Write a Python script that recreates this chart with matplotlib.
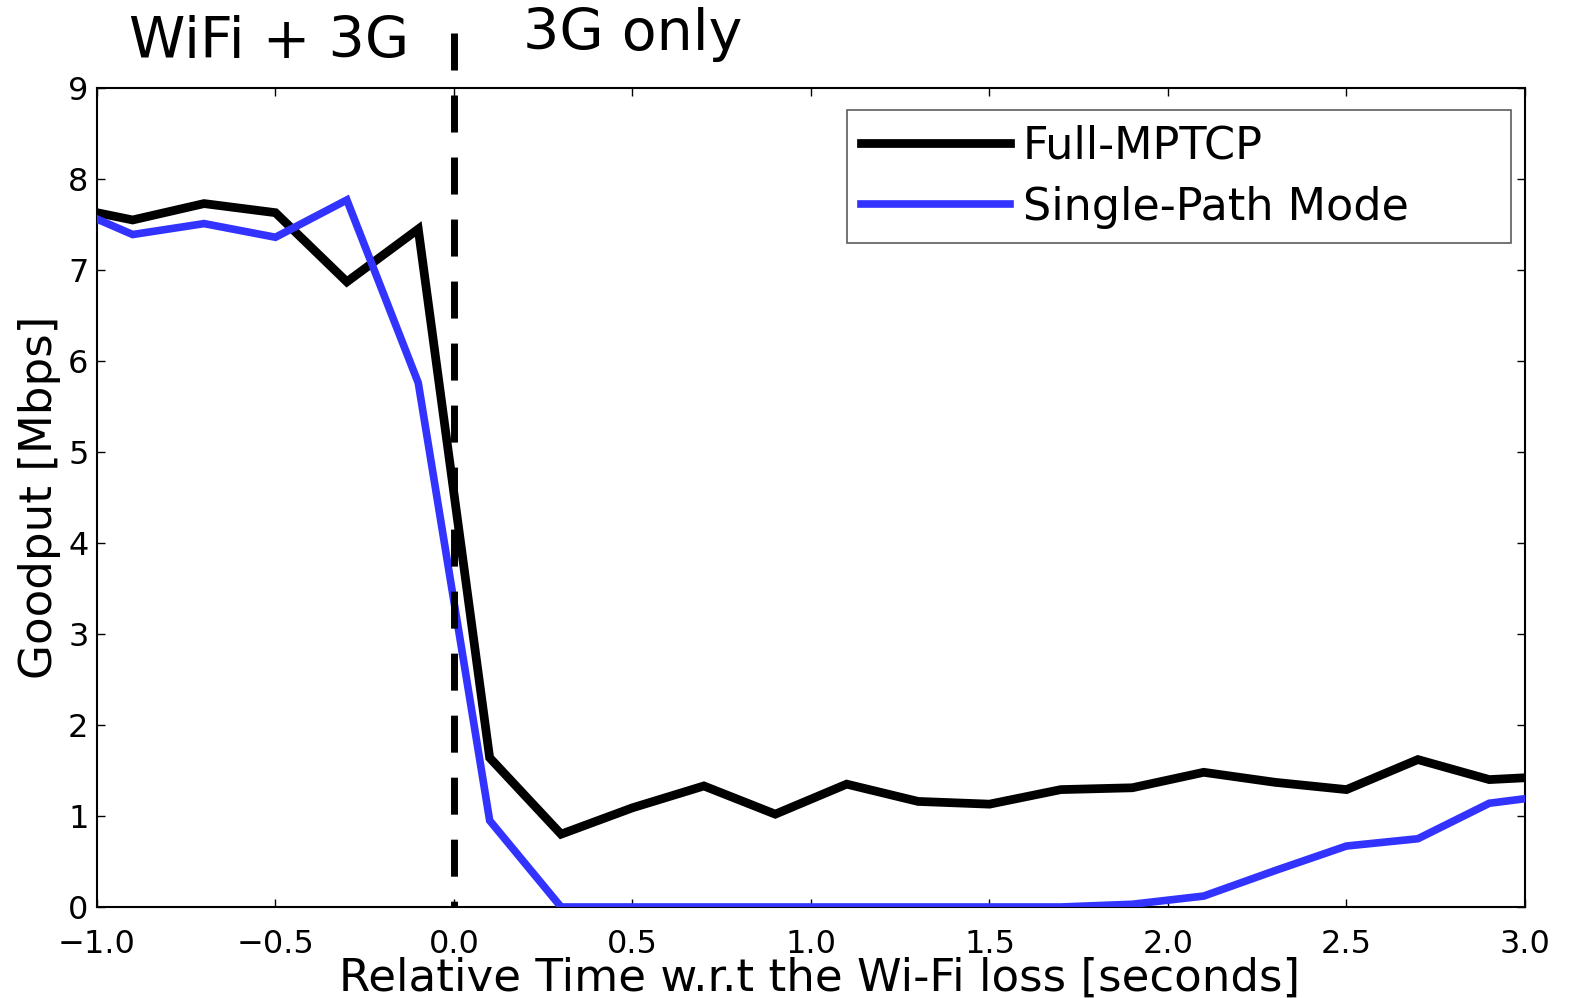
import matplotlib
matplotlib.use("Agg")
import matplotlib.pyplot as plt

plt.rcParams['font.family'] = ['DejaVu Sans']

time_s = [-1.0, -0.9, -0.7, -0.5, -0.3, -0.1, 0.1, 0.3, 0.5, 0.7, 0.9, 1.1,
          1.3, 1.5, 1.7, 1.9, 2.1, 2.3, 2.5, 2.7, 2.9, 3.0]
full_mptcp = [7.63, 7.55, 7.73, 7.63, 6.87, 7.45, 1.64, 0.80, 1.09, 1.33, 1.02, 1.35,
              1.16, 1.13, 1.29, 1.31, 1.48, 1.37, 1.29, 1.62, 1.40, 1.42]
single_path = [7.56, 7.39, 7.51, 7.36, 7.77, 5.76, 0.95, 0.0, 0.0, 0.0, 0.0, 0.0,
               0.0, 0.0, 0.0, 0.03, 0.12, 0.40, 0.67, 0.75, 1.14, 1.19]
series_labels = ["Full-MPTCP", "Single-Path Mode"]
phase_labels = ["WiFi + 3G", "3G only"]
x_ticks = [-1.0, -0.5, 0.0, 0.5, 1.0, 1.5, 2.0, 2.5, 3.0]
y_ticks = [0, 1, 2, 3, 4, 5, 6, 7, 8, 9]

fig = plt.figure(figsize=(15.79, 9.98), dpi=100)
ax = fig.add_axes([0.0614, 0.0912, 0.9044, 0.8206])

ax.plot(time_s, full_mptcp, color='black', lw=6.3, label=series_labels[0],
        solid_joinstyle='miter', zorder=3)
ax.plot(time_s, single_path, color='#3333FF', lw=5.5, label=series_labels[1],
        solid_joinstyle='miter', zorder=4)

# loss instant marker (drawn top-down so the dash pattern starts at the top)
ax.plot([0.0, 0.0], [9.6, 0.0], color='black', lw=5, dashes=(5.33, 3.6),
        clip_on=False, zorder=5)

ax.text(-0.518, 9.33, phase_labels[0], fontsize=41, ha='center', va='baseline')
ax.text(0.500, 9.42, phase_labels[1], fontsize=41, ha='center', va='baseline')

ax.set_xlim(-1.0, 3.0)
ax.set_ylim(0, 9)
ax.set_xticks(x_ticks)
ax.set_yticks(y_ticks)
ax.set_xticklabels([f"{v:.1f}".replace('-', '\u2212') for v in x_ticks])
ax.tick_params(direction='in', top=True, right=True, length=6, width=1,
               labelsize=23, pad=6)
ax.tick_params(axis='x', pad=15.5)
for s in ax.spines.values():
    s.set_linewidth(1.5)

ax.set_xlabel("Relative Time w.r.t the Wi-Fi loss [seconds]", fontsize=32.5)
ax.set_ylabel("Goodput [Mbps]", fontsize=32.5)
ax.xaxis.set_label_coords(0.506, -0.0605)
ax.yaxis.set_label_coords(-0.025, 0.5)

leg = ax.legend(loc='upper left', bbox_to_anchor=(0.525, 0.817, 0.465, 0.156),
                mode='expand', fontsize=32, frameon=True, fancybox=False,
                handlelength=3.35, handletextpad=0.3, borderpad=0.32,
                labelspacing=0.42, borderaxespad=0)
leg.get_frame().set_edgecolor('#333333')
leg.get_frame().set_linewidth(1.2)

fig.savefig("out.png", dpi=100)
